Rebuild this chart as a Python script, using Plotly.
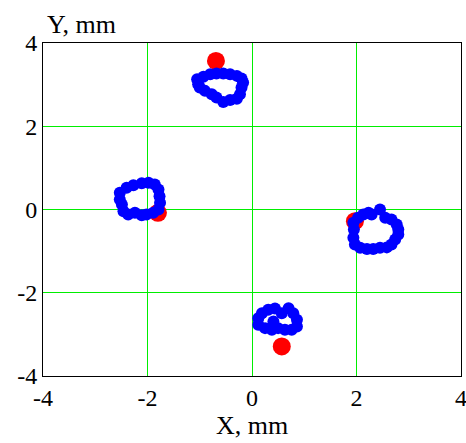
import plotly.graph_objects as go

# Target (red) points, mm
red_x = [-0.69, -1.80, 1.97, 0.57]
red_y = [3.57, -0.08, -0.28, -3.29]

# Measured (blue) points, mm — four clusters
blue_top_x = [-1.05, -0.93, -0.80, -0.68, -0.55, -0.42, -0.29, -0.20, -0.17, -0.20,
              -0.23, -0.29, -0.42, -0.55, -0.68, -0.77, -0.90, -1.00, -1.03]
blue_top_y = [3.13, 3.19, 3.25, 3.27, 3.27, 3.25, 3.21, 3.15, 3.05, 2.93,
              2.77, 2.66, 2.63, 2.58, 2.69, 2.77, 2.85, 2.93, 3.01]

blue_left_x = [-2.53, -2.40, -2.27, -2.11, -1.98, -1.86, -1.79, -1.77, -1.76, -1.79,
               -1.89, -2.02, -2.11, -2.24, -2.37, -2.46, -2.49, -2.53]
blue_left_y = [0.40, 0.52, 0.58, 0.63, 0.64, 0.60, 0.48, 0.32, 0.16, 0.00,
               -0.08, -0.12, -0.14, -0.08, -0.12, -0.04, 0.12, 0.24]

blue_right_x = [1.94, 2.03, 2.13, 2.23, 2.29, 2.45, 2.55, 2.67, 2.77, 2.80, 2.80,
                2.74, 2.67, 2.58, 2.45, 2.32, 2.20, 2.07, 1.97, 1.94, 1.95]
blue_right_y = [-0.32, -0.20, -0.12, -0.08, -0.12, 0.00, -0.20, -0.24, -0.36, -0.48, -0.60,
                -0.72, -0.84, -0.91, -0.92, -0.95, -0.95, -0.92, -0.84, -0.68, -0.48]

blue_bottom_x = [0.12, 0.19, 0.31, 0.44, 0.57, 0.70, 0.79, 0.86, 0.86, 0.76,
                 0.63, 0.50, 0.38, 0.25, 0.12, 0.41]
blue_bottom_y = [-2.61, -2.49, -2.41, -2.38, -2.49, -2.37, -2.49, -2.65, -2.81, -2.89,
                 -2.89, -2.85, -2.89, -2.85, -2.77, -2.69]

tick_vals = [-4, -2, 0, 2, 4]
tick_text = ["-4", "-2", "0", "2", "4"]

blue_x = blue_top_x + blue_left_x + blue_right_x + blue_bottom_x
blue_y = blue_top_y + blue_left_y + blue_right_y + blue_bottom_y

fig = go.Figure()
fig.add_trace(go.Scatter(x=red_x, y=red_y, mode="markers",
                         marker=dict(color="#ff0000", size=18, line=dict(width=0)),
                         showlegend=False))
fig.add_trace(go.Scatter(x=blue_x, y=blue_y, mode="markers",
                         marker=dict(color="#0000ff", size=12, line=dict(width=0)),
                         showlegend=False))

family = "Liberation Serif, Times New Roman, serif"
tick_font = dict(family=family, size=24, color="black")
title_font = dict(family=family, size=26, color="black")

axis_common = dict(range=[-4, 4], tickvals=tick_vals, ticktext=tick_text,
                   showgrid=True, gridcolor="#00ee00", gridwidth=1,
                   zeroline=False, showline=True, linecolor="black", linewidth=1,
                   mirror=True, ticks="", tickfont=tick_font, automargin=False,
                   ticklabeloverflow="allow")

fig.update_layout(
    width=466, height=443,
    margin=dict(l=43, r=5, t=43, b=67),
    paper_bgcolor="white", plot_bgcolor="white",
    font=tick_font,
    xaxis=dict(**axis_common, title=dict(text="X, mm", font=title_font, standoff=2)),
    yaxis=dict(**axis_common),
    annotations=[dict(text="Y, mm", xref="paper", yref="paper", x=0, y=1,
                      xanchor="left", yanchor="bottom", yshift=2, xshift=2,
                      showarrow=False, font=title_font)],
)

fig.write_html(
    "out.html",
    config={"displayModeBar": False},
    post_script="document.body.style.margin='0';document.body.style.overflow='hidden';",
)
